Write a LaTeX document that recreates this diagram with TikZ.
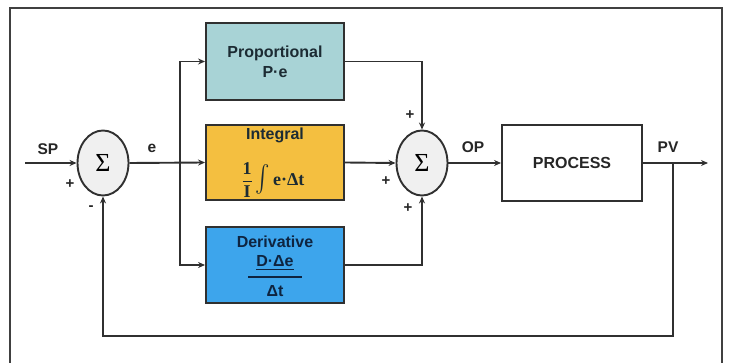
\documentclass[tikz,border=0pt]{standalone}
\usepackage{amsmath}
\usepackage{fontspec}
\setmainfont{Liberation Sans}
\newfontfamily\serifff{Liberation Serif}
\usetikzlibrary{arrows.meta,shapes.geometric}
\definecolor{pfill}{HTML}{A8D3D6}
\definecolor{ifill}{HTML}{F4BF40}
\definecolor{dfill}{HTML}{3DA5EC}
\definecolor{lncol}{HTML}{303030}
\definecolor{ptext}{HTML}{1C2B33}
\definecolor{dtext}{HTML}{0E2440}
\begin{document}
\begin{tikzpicture}[x=1pt,y=-1pt,
  conn/.style={draw=lncol,line width=1.9pt},
  arr/.style={conn,-{Stealth[length=7pt,width=6pt]}},
  blk/.style={draw=lncol,line width=1.9pt,minimum width=138pt,minimum height=77pt,inner sep=0pt,align=center},
  sumnode/.style={ellipse,draw=lncol,line width=1.9pt,fill=gray!12,minimum width=51pt,minimum height=65pt,inner sep=0pt,font=\serifff\fontsize{26}{26}\selectfont},
  lbl/.style={font=\bfseries\fontsize{15.5}{15.5}\selectfont,text=black!85},
  sgn/.style={font=\bfseries\fontsize{15}{15}\selectfont,text=black!85,inner sep=0pt}]
\useasboundingbox (0,0) rectangle (729,363);
% outer frame
\draw[draw=black!75,line width=1.6pt] (10,380) -- (10,8) -- (722,8) -- (722,380);
% sums
\node[sumnode] (s1) at (103,163) {Σ};
\node[sumnode] (s2) at (422,163) {Σ};
% blocks
\node[blk,fill=pfill,font=\bfseries\fontsize{16}{20}\selectfont,text=ptext] (P) at (275,61.5) {Proportional\\P·e};
\node[blk,fill=ifill,minimum height=75pt] (I) at (275,162.5) {};
\node[font=\bfseries\fontsize{16}{16}\selectfont,text=ptext,inner sep=0pt] (It) at (275,135) {Integral};
\node[text=ptext,inner sep=0pt] (Im) at (273,180) {\serifff\bfseries\fontsize{18}{18}\selectfont $\dfrac{\mbox{1}}{\mbox{I}}\,\scalebox{1.25}[1.55]{$\int$}$\,e·Δt};
\node[blk,fill=dfill,minimum height=76pt] (D) at (275,265) {};
\node[font=\bfseries\fontsize{16}{16}\selectfont,text=dtext] (Dt) at (275,242) {Derivative};
\node[font=\bfseries\fontsize{16}{16}\selectfont,text=dtext,inner sep=1pt] (Dn) at (275,263) {\underline{D·Δe}};
\node[font=\bfseries\fontsize{16}{16}\selectfont,text=dtext] (Dd) at (275,291) {Δt};
\coordinate (bl) at (248,277);
\coordinate (br) at (302,277);
\draw[dtext,line width=1.2pt] (bl) -- (br);
\node[blk,fill=white,minimum width=140pt,minimum height=76pt,font=\bfseries\fontsize{16}{16}\selectfont,text=black!85] (proc) at (572,163) {PROCESS};
% coordinates
\coordinate (in) at (25,163);
\coordinate (br1) at (180,163);
\coordinate (out) at (708,163);
\coordinate (fb) at (673,163);
\coordinate (fbc) at (673,336);
% connectors
\draw[arr] (in) -- (s1.west);
\draw[arr] (s1.east) -- (I.west);
\draw[arr] (br1) |- (P.west);
\draw[arr] (br1) |- (D.west);
\draw[arr] (P.east) -| (s2.north);
\draw[arr] (I.east) -- (s2.west);
\draw[arr] (D.east) -| (s2.south);
\draw[arr] (s2.east) -- (proc.west);
\draw[arr] (proc.east) -- (out);
\draw[arr] (fb) -- (fbc) -| (s1.south);
% labels
\node[lbl] (lsp) at (48,149) {SP};
\node[sgn] (p1) at (70,184) {+};
\node[sgn] (m1) at (91,208) {-};
\node[lbl] (le) at (152,148) {e};
\node[sgn] (p2) at (410,115) {+};
\node[sgn] (p3) at (386,181) {+};
\node[sgn] (p4) at (408,208) {+};
\node[lbl] (lop) at (473,147) {OP};
\node[lbl] (lpv) at (668,147) {PV};
\end{tikzpicture}
\end{document}
